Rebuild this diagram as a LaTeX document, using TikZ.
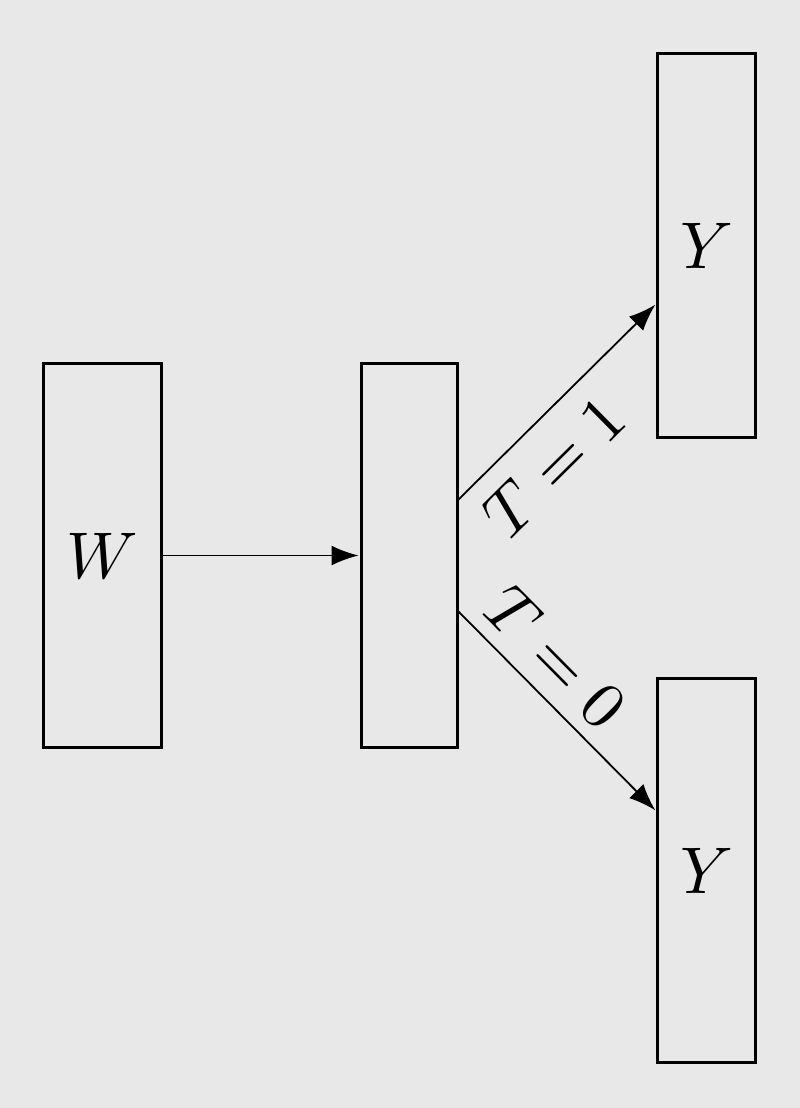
\documentclass[tikz,border=0pt]{standalone}
\usetikzlibrary{arrows.meta}
\definecolor{bggray}{HTML}{E8E8E8}
\newcommand{\bigtxt}[1]{\scalebox{6.6}{$#1$}}
\begin{document}
\begin{tikzpicture}[x=1pt,y=-1pt,
  box/.style={draw=black,line width=3pt,inner sep=0pt,outer sep=0pt,minimum height=384pt},
  conn/.style={line width=1.8pt,-{Latex[length=27pt,width=20pt]},shorten >=3pt},
  lbl/.style={inner sep=0pt}]
\fill[bggray] (0,0) rectangle (800,1108);
\useasboundingbox (0,0) rectangle (800,1108);
\node[box,minimum width=118pt] (w) at (102.5,555.5) {\bigtxt{W}};
\node[box,minimum width=96pt] (m) at (409.5,555.5) {};
\node[box,minimum width=98pt] (yt) at (706.5,245.5) {\bigtxt{Y}};
\node[box,minimum width=98pt] (yb) at (706.5,870.5) {\bigtxt{Y}};
\draw[conn] (w.east) -- (m.west);
\draw[conn] ([yshift=55pt]m.east) -- node[lbl,sloped,pos=0.33,below=20pt] {\bigtxt{T=1}} ([yshift=-57pt]yt.west);
\draw[conn] ([yshift=-55pt]m.east) -- node[lbl,sloped,pos=0.36,above=14pt] {\bigtxt{T=0}} ([yshift=58pt]yb.west);
\end{tikzpicture}
\end{document}
